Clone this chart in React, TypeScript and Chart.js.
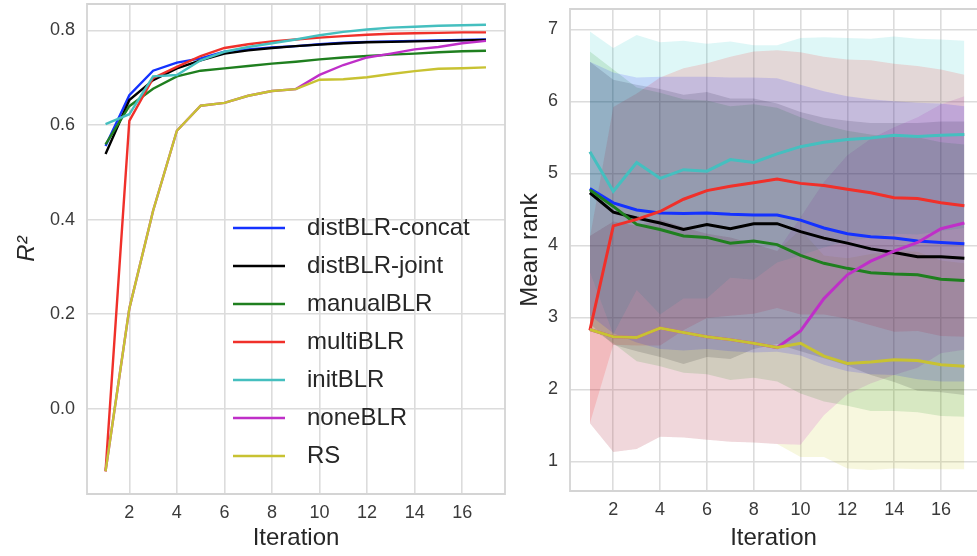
import React, { useEffect, useRef } from 'react';
import { Chart, registerables } from 'chart.js';

Chart.register(...registerables);

// ---------- data ----------
const iterations = [1, 2, 3, 4, 5, 6, 7, 8, 9, 10, 11, 12, 13, 14, 15, 16, 17];

const seriesNames = ['distBLR-concat', 'distBLR-joint', 'manualBLR', 'multiBLR', 'initBLR', 'noneBLR', 'RS'];
const lineColors = ['#1432ff', '#000000', '#1f7f1f', '#f0302a', '#45bfbf', '#bf2fc8', '#c8c232'];
const bandColors = [
  'rgba(0,0,255,0.13)',
  'rgba(0,0,0,0.13)',
  'rgba(0,128,0,0.13)',
  'rgba(255,0,0,0.13)',
  'rgba(0,191,191,0.13)',
  'rgba(191,0,191,0.13)',
  'rgba(191,191,0,0.13)',
];

// Left panel: R^2 per iteration
const r2DistConcat = [0.556, 0.663, 0.715, 0.732, 0.741, 0.755, 0.760, 0.764, 0.767, 0.771, 0.774, 0.776, 0.777, 0.778, 0.779, 0.780, 0.781];
const r2DistJoint = [0.539, 0.653, 0.695, 0.720, 0.737, 0.751, 0.758, 0.763, 0.767, 0.770, 0.773, 0.775, 0.776, 0.777, 0.778, 0.779, 0.780];
const r2Manual = [0.559, 0.640, 0.677, 0.703, 0.715, 0.720, 0.725, 0.730, 0.734, 0.739, 0.743, 0.746, 0.749, 0.751, 0.754, 0.756, 0.757];
const r2Multi = [-0.132, 0.609, 0.699, 0.723, 0.746, 0.763, 0.771, 0.777, 0.781, 0.785, 0.788, 0.791, 0.793, 0.794, 0.795, 0.796, 0.796];
const r2Init = [0.602, 0.623, 0.703, 0.706, 0.737, 0.755, 0.765, 0.773, 0.781, 0.790, 0.797, 0.802, 0.806, 0.808, 0.810, 0.811, 0.812];
const r2None = [-0.132, 0.212, 0.419, 0.588, 0.641, 0.647, 0.662, 0.672, 0.676, 0.706, 0.727, 0.743, 0.751, 0.760, 0.765, 0.773, 0.778];
const r2RS = [-0.132, 0.212, 0.419, 0.588, 0.641, 0.647, 0.662, 0.672, 0.676, 0.696, 0.697, 0.701, 0.708, 0.714, 0.719, 0.720, 0.722];

// Right panel: mean rank per iteration
const rankDistConcat = [4.79, 4.59, 4.49, 4.45, 4.44, 4.45, 4.43, 4.42, 4.42, 4.35, 4.24, 4.16, 4.12, 4.10, 4.06, 4.04, 4.02];
const rankDistJoint = [4.73, 4.46, 4.38, 4.31, 4.22, 4.29, 4.23, 4.30, 4.30, 4.19, 4.10, 4.03, 3.95, 3.90, 3.84, 3.84, 3.82];
const rankManual = [4.77, 4.54, 4.29, 4.22, 4.13, 4.11, 4.03, 4.06, 4.01, 3.86, 3.75, 3.68, 3.62, 3.60, 3.59, 3.53, 3.51];
const rankMulti = [2.82, 4.27, 4.36, 4.47, 4.64, 4.76, 4.82, 4.87, 4.92, 4.86, 4.83, 4.78, 4.73, 4.66, 4.65, 4.59, 4.55];
const rankInit = [5.30, 4.75, 5.15, 4.93, 5.05, 5.03, 5.19, 5.15, 5.27, 5.37, 5.43, 5.47, 5.49, 5.53, 5.51, 5.53, 5.54];
const rankNone = [2.83, 2.73, 2.72, 2.85, 2.79, 2.73, 2.69, 2.64, 2.58, 2.81, 3.26, 3.59, 3.78, 3.92, 4.04, 4.23, 4.31];
const rankRS = [2.83, 2.73, 2.72, 2.85, 2.79, 2.73, 2.69, 2.64, 2.58, 2.64, 2.46, 2.36, 2.38, 2.41, 2.40, 2.34, 2.32];

// Right panel: spread (std) of rank per iteration
const stdDistConcat = [1.76, 1.81, 1.84, 1.89, 1.90, 1.89, 1.90, 1.91, 1.90, 1.88, 1.90, 1.91, 1.91, 1.90, 1.92, 1.93, 1.91];
const stdDistJoint = [1.82, 1.84, 1.85, 1.86, 1.87, 1.84, 1.81, 1.74, 1.67, 1.66, 1.67, 1.70, 1.75, 1.80, 1.86, 1.88, 1.90];
const stdManual = [1.92, 1.90, 1.90, 1.90, 1.90, 1.90, 1.90, 1.90, 1.90, 1.92, 1.92, 1.91, 1.92, 1.90, 1.91, 1.90, 1.89];
const stdMulti = [1.29, 1.65, 1.75, 1.86, 1.82, 1.77, 1.80, 1.82, 1.79, 1.82, 1.79, 1.80, 1.84, 1.86, 1.84, 1.85, 1.82];
const stdInit = [1.67, 1.99, 1.77, 1.89, 1.79, 1.77, 1.64, 1.63, 1.51, 1.51, 1.46, 1.41, 1.38, 1.37, 1.36, 1.33, 1.30];
const stdNone = [1.30, 1.60, 1.55, 1.51, 1.46, 1.43, 1.42, 1.38, 1.34, 1.58, 1.62, 1.66, 1.70, 1.72, 1.74, 1.73, 1.76];
const stdRS = [1.30, 1.60, 1.55, 1.51, 1.46, 1.43, 1.42, 1.38, 1.34, 1.58, 1.40, 1.46, 1.50, 1.51, 1.51, 1.45, 1.43];

// tick labels
const xTickValues = [2, 4, 6, 8, 10, 12, 14, 16];
const r2TickValues = [0.0, 0.2, 0.4, 0.6, 0.8];
const rankTickValues = [1, 2, 3, 4, 5, 6, 7];

// ---------- helpers ----------
const FONT = "'Liberation Sans', Arial, Helvetica, sans-serif";
const TICK_COLOR = '#3a3a3a';
const TITLE_COLOR = '#262626';
const GRID_COLOR = '#dcdcdc';

const pts = (values: number[]) => iterations.map((x, i) => ({ x, y: values[i] }));

function fixedAxis(size: number, horizontal: boolean) {
  return (scale: any) => {
    if (horizontal) scale.height = size;
    else scale.width = size;
    scale.paddingTop = 0;
    scale.paddingBottom = 0;
    scale.paddingLeft = 0;
    scale.paddingRight = 0;
  };
}

function setTicks(values: number[]) {
  return (scale: any) => {
    scale.ticks = values.map((v) => ({ value: v }));
  };
}

function legendLine(color: string) {
  const c = document.createElement('canvas');
  c.width = 62;
  c.height = 6;
  const ctx = c.getContext('2d')!;
  ctx.strokeStyle = color;
  ctx.lineWidth = 2.6;
  ctx.beginPath();
  ctx.moveTo(0, 3);
  ctx.lineTo(52, 3);
  ctx.stroke();
  return c;
}

const framePlugin = {
  id: 'frame',
  beforeDatasetsDraw(chart: any, _args: any, opts: any) {
    const { ctx, chartArea } = chart;
    const { left, right, top, bottom } = chartArea;
    ctx.save();
    ctx.strokeStyle = opts.color || '#d2d2d2';
    ctx.lineWidth = opts.width || 1.8;
    ctx.beginPath();
    if (opts.closeRight) {
      ctx.rect(left, top, right - left, bottom - top);
    } else {
      ctx.moveTo(right + 4, top);
      ctx.lineTo(left, top);
      ctx.lineTo(left, bottom);
      ctx.lineTo(right + 4, bottom);
    }
    ctx.stroke();
    ctx.restore();
  },
};

const legendPlacer = {
  id: 'legendPlacer',
  afterLayout(chart: any, _args: any, opts: any) {
    const lg = chart.legend;
    if (!lg || opts == null || opts.left == null) return;
    const w = lg.width;
    lg.left = opts.left;
    lg.top = opts.top;
    lg.right = opts.left + w;
    lg.bottom = opts.top + 400;
  },
};

function xScale(min: number, max: number, height: number) {
  return {
    type: 'linear' as const,
    min,
    max,
    afterBuildTicks: setTicks(xTickValues),
    afterFit: fixedAxis(height, true),
    grid: { color: GRID_COLOR, lineWidth: 1.6, drawTicks: false },
    border: { display: false },
    ticks: {
      padding: 8,
      color: TICK_COLOR,
      font: { size: 18, family: FONT },
      callback: (v: any) => String(v),
      maxRotation: 0,
    },
    title: {
      display: true,
      text: 'Iteration',
      color: TITLE_COLOR,
      font: { size: 24, family: FONT },
      padding: { top: 0, bottom: 3 },
    },
  };
}

function leftConfig(): any {
  const series = [r2DistConcat, r2DistJoint, r2Manual, r2Multi, r2Init, r2None, r2RS];
  const datasets = series.map((vals, i) => ({
    label: seriesNames[i],
    data: pts(vals),
    borderColor: lineColors[i],
    backgroundColor: lineColors[i],
    borderWidth: 2.4,
    pointRadius: 0,
    pointHoverRadius: 0,
    pointStyle: legendLine(lineColors[i]),
    fill: false,
    tension: 0,
    order: -i,
  }));
  return {
    type: 'line',
    data: { datasets },
    options: {
      responsive: false,
      animation: false,
      devicePixelRatio: 1,
      layout: { padding: { top: 4, right: 5, left: 0, bottom: 0 } },
      scales: {
        x: xScale(0.22, 17.8, 62),
        y: {
          type: 'linear',
          min: -0.18,
          max: 0.856,
          afterBuildTicks: setTicks(r2TickValues),
          afterFit: fixedAxis(87, false),
          grid: { color: GRID_COLOR, lineWidth: 1.6, drawTicks: false },
          border: { display: false },
          ticks: {
            padding: 12,
            color: TICK_COLOR,
            font: { size: 18, family: FONT },
            callback: (v: any) => Number(v).toFixed(1),
          },
          title: {
            display: true,
            text: 'R²',
            color: TITLE_COLOR,
            font: { size: 24, family: FONT, style: 'italic' },
            padding: { top: 13, bottom: 0 },
          },
        },
      },
      plugins: {
        tooltip: { enabled: false },
        legend: {
          display: true,
          position: 'chartArea',
          align: 'start',
          labels: {
            usePointStyle: true,
            pointStyleWidth: 62,
            boxWidth: 62,
            padding: 14,
            color: TITLE_COLOR,
            font: { size: 24, family: FONT },
            sort: (a: any, b: any) => a.datasetIndex - b.datasetIndex,
          },
        },
        legendPlacer: { left: 219, top: 202 },
        frame: { color: '#d4d4d4', width: 1.8, closeRight: true },
      },
    },
    plugins: [framePlugin, legendPlacer],
  };
}

function rightConfig(): any {
  const means = [rankDistConcat, rankDistJoint, rankManual, rankMulti, rankInit, rankNone, rankRS];
  const stds = [stdDistConcat, stdDistJoint, stdManual, stdMulti, stdInit, stdNone, stdRS];
  const datasets: any[] = [];
  means.forEach((m, i) => {
    const s = stds[i];
    datasets.push({
      label: '',
      data: pts(m.map((v, k) => v - s[k])),
      borderColor: 'transparent',
      backgroundColor: 'transparent',
      borderWidth: 0,
      pointRadius: 0,
      fill: false,
      order: 10,
    });
    datasets.push({
      label: '',
      data: pts(m.map((v, k) => v + s[k])),
      borderColor: 'transparent',
      backgroundColor: bandColors[i],
      borderWidth: 0,
      pointRadius: 0,
      fill: '-1',
      order: 10,
    });
  });
  means.forEach((m, i) => {
    datasets.push({
      label: seriesNames[i],
      data: pts(m),
      borderColor: lineColors[i],
      backgroundColor: lineColors[i],
      borderWidth: 3,
      pointRadius: 0,
      pointHoverRadius: 0,
      fill: false,
      tension: 0,
      order: -i,
    });
  });
  return {
    type: 'line',
    data: { datasets },
    options: {
      responsive: false,
      animation: false,
      devicePixelRatio: 1,
      layout: { padding: { top: 9, right: 0, left: 0, bottom: 0 } },
      scales: {
        x: xScale(0.15, 17.54, 65),
        y: {
          type: 'linear',
          min: 0.5875,
          max: 7.282,
          afterBuildTicks: setTicks(rankTickValues),
          afterFit: fixedAxis(60, false),
          grid: { color: GRID_COLOR, lineWidth: 1.6, drawTicks: false },
          border: { display: false },
          ticks: {
            padding: 12,
            color: TICK_COLOR,
            font: { size: 18, family: FONT },
            callback: (v: any) => String(v),
          },
          title: {
            display: true,
            text: 'Mean rank',
            color: TITLE_COLOR,
            font: { size: 24, family: FONT },
            padding: { top: 6, bottom: 0 },
          },
        },
      },
      plugins: {
        tooltip: { enabled: false },
        legend: { display: false },
        filler: { propagate: false, drawTime: 'beforeDatasetsDraw' },
        frame: { color: '#d4d4d4', width: 1.8, closeRight: false },
      },
    },
    plugins: [framePlugin],
  };
}

export default function App() {
  const leftRef = useRef<HTMLCanvasElement | null>(null);
  const rightRef = useRef<HTMLCanvasElement | null>(null);

  useEffect(() => {
    const c1 = new Chart(leftRef.current as HTMLCanvasElement, leftConfig());
    const c2 = new Chart(rightRef.current as HTMLCanvasElement, rightConfig());
    return () => {
      c1.destroy();
      c2.destroy();
    };
  }, []);

  return (
    <div
      style={{
        position: 'absolute',
        left: 0,
        top: 0,
        width: 977,
        height: 556,
        background: '#ffffff',
        overflow: 'hidden',
      }}
    >
      <canvas ref={leftRef} width={510} height={556} style={{ position: 'absolute', left: 0, top: 0 }} />
      <canvas ref={rightRef} width={467} height={556} style={{ position: 'absolute', left: 510, top: 0 }} />
    </div>
  );
}
